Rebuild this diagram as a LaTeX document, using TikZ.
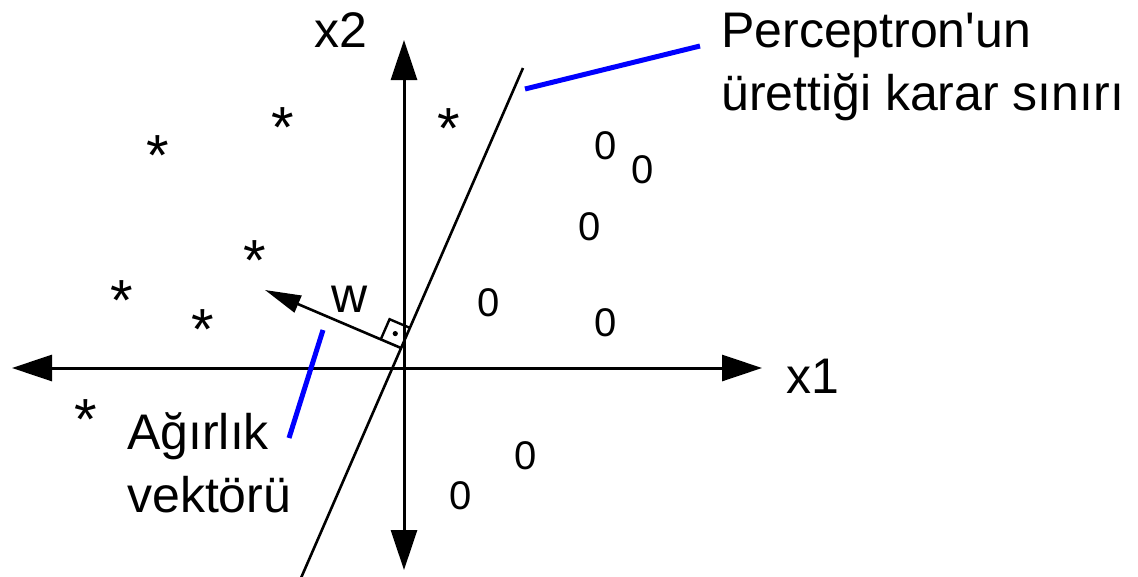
\documentclass[tikz,border=0pt]{standalone}
\usepackage{fontspec}
\setmainfont{Liberation Sans}[Ligatures=TeXOff]
\usetikzlibrary{arrows.meta,calc}
\definecolor{pblue}{RGB}{0,0,255}
\begin{document}
\begin{tikzpicture}[x=1pt,y=-1pt,
  axis/.style={line width=3pt,{Triangle[length=40pt,width=26pt]}-{Triangle[length=40pt,width=26pt]}},
  bline/.style={line width=2.6pt},
  wvec/.style={line width=2.6pt,-{Triangle[length=36pt,width=18pt]}},
  pointer/.style={line width=5pt,draw=pblue},
  lbl/.style={font=\fontsize{50}{63}\selectfont,inner sep=0pt,align=left,anchor=base west},
  zero/.style={font=\fontsize{40}{40}\selectfont,inner sep=0pt},
  ast/.style={font=\fontsize{58}{58}\selectfont,inner sep=0pt,yshift=-12.6pt}]
\useasboundingbox[fill=white] (0,0) rectangle (1138,576);

% axes
\coordinate (L) at (12,368);
\coordinate (R) at (762,368);
\coordinate (T) at (404,40);
\coordinate (B) at (404,570);
\draw[axis] (L) -- (R);
\draw[axis] (B) -- (T);

% decision boundary
\coordinate (Btop) at (523,68);
\coordinate (Bbot) at (301,578);
\draw[bline] (Btop) -- (Bbot);

% weight vector
\coordinate (O) at (401,348);
\coordinate (W) at (265,290);
\draw[wvec] (O) -- (W);

% right angle mark
\coordinate (Ra) at ($(O)!22pt!(W)$);
\coordinate (Rb) at ($(O)!22pt!(Btop)$);
\coordinate (Rc) at ($(Ra)+(Rb)-(O)$);
\draw[line width=2.4pt] (Ra) -- (Rc) -- (Rb);
\fill ($(O)!0.5!(Rc)$) circle (2.6pt);

% labels
\node[lbl] (x2) at (314,47) {x2};
\node[lbl] (x1) at (786,393) {x1};
\node[lbl] (wl) at (331,312) {w};
\node[lbl] (perc) at (721,110) {Perceptron'un\\ürettiği karar sınırı};
\node[lbl] (agir) at (127,512) {Ağırlık\\vektörü};

% pointers
\coordinate (P1a) at (525,89);
\coordinate (P1b) at (700,46);
\draw[pointer] (P1a) -- (P1b);
\coordinate (P2a) at (323,330);
\coordinate (P2b) at (289,438);
\draw[pointer] (P2a) -- (P2b);

% stars
\node[ast] (s1) at (158,143) {*};
\node[ast] (s2) at (283,115) {*};
\node[ast] (s3) at (449,116) {*};
\node[ast] (s4) at (255,248) {*};
\node[ast] (s5) at (122,288) {*};
\node[ast] (s6) at (203,317) {*};
\node[ast] (s7) at (86,407) {*};

% zeros
\node[zero] (z1) at (606,146) {0};
\node[zero] (z2) at (643,170) {0};
\node[zero] (z3) at (590,227) {0};
\node[zero] (z4) at (489,303) {0};
\node[zero] (z5) at (606,323) {0};
\node[zero] (z6) at (526,456) {0};
\node[zero] (z7) at (461,496) {0};
\end{tikzpicture}
\end{document}
